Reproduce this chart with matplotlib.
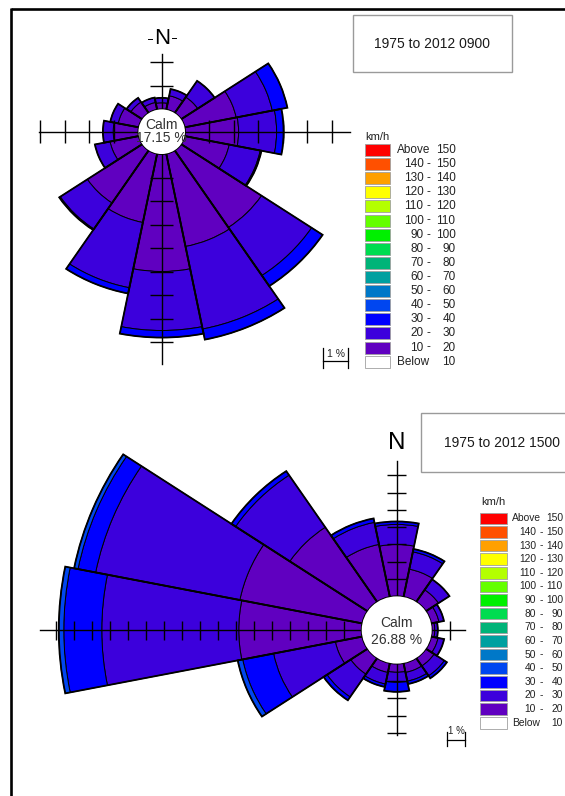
import numpy as np
import matplotlib
matplotlib.use("Agg")
import matplotlib.pyplot as plt
from matplotlib.patches import Rectangle, Ellipse

plt.rcParams['font.family'] = ['Liberation Sans', 'DejaVu Sans']

# ---------------- data ----------------
directions = ['N', 'NNE', 'NE', 'ENE', 'E', 'ESE', 'SE', 'SSE',
              'S', 'SSW', 'SW', 'WSW', 'W', 'WNW', 'NW', 'NNW']

# Rose 1 : 1975 to 2012 0900 (percent frequency per speed class)
r1_10_20 = [0.28, 0.61, 0.82, 2.15, 2.19, 1.86, 3.95, 4.03, 5.00, 2.99, 2.70, 1.20, 1.03, 0.86, 0.57, 0.32]
r1_20_30 = [0.21, 0.29, 0.83, 1.50, 1.55, 1.29, 2.46, 3.58, 2.51, 2.83, 1.33, 0.63, 0.42, 0.33, 0.21, 0.21]
r1_30_40 = [0.00, 0.00, 0.00, 0.63, 0.29, 0.05, 0.54, 0.46, 0.30, 0.25, 0.05, 0.00, 0.00, 0.00, 0.00, 0.00]
r1_40_50 = [0.00] * 16
calm1 = 17.15
title1 = "1975 to 2012 0900"

# Rose 2 : 1975 to 2012 1500
r2_10_20 = [3.00, 1.64, 0.85, 0.45, 0.17, 0.40, 0.56, 0.56, 0.50, 0.56, 1.13, 1.53, 6.83, 6.94, 5.20, 3.10]
r2_20_30 = [1.16, 1.02, 0.73, 0.28, 0.17, 0.34, 0.68, 0.51, 0.58, 0.68, 1.58, 3.50, 7.61, 8.17, 3.62, 1.30]
r2_30_40 = [0.17, 0.17, 0.00, 0.00, 0.00, 0.00, 0.17, 0.17, 0.55, 0.17, 0.23, 1.75, 2.11, 1.00, 0.28, 0.23]
r2_40_50 = [0.00, 0.00, 0.00, 0.00, 0.00, 0.00, 0.00, 0.00, 0.00, 0.00, 0.00, 0.28, 0.28, 0.22, 0.00, 0.00]
calm2 = 26.88
title2 = "1975 to 2012 1500"

# legend classes (top to bottom)
legend_low = ['Above', '140', '130', '120', '110', '100', '90', '80', '70', '60',
              '50', '40', '30', '20', '10', 'Below']
legend_high = ['150', '150', '140', '130', '120', '110', '100', '90', '80', '70',
               '60', '50', '40', '30', '20', '10']
legend_colors = ['#ff0000', '#ff5000', '#ffa000', '#ffff00', '#b4ff00', '#64ff00',
                 '#00f000', '#00dc50', '#00b478', '#00a0a0', '#0078c8', '#0046f0',
                 '#0000ff', '#3c00dc', '#6000c0', '#ffffff']
# colours of the drawn classes 10-20, 20-30, 30-40, 40-50
class_colors = [legend_colors[14], legend_colors[13], legend_colors[12], legend_colors[11]]

# axis arm lengths beyond the calm circle (in % units): N, E, S, W
r1_arms = [2.37, 6.73, 8.95, 4.05]
r2_arms = [7.80, 1.85, 4.14, 17.9]

# ---------------- figure ----------------
W, H = 565, 796
fig = plt.figure(figsize=(W / 100, H / 100), dpi=100)
pax = fig.add_axes([0, 0, 1, 1])
pax.set_xlim(0, W)
pax.set_ylim(H, 0)
pax.axis('off')

# frame
pax.plot([10.5, W + 5], [8.5, 8.5], color='black', lw=1.9, solid_capstyle='butt')
pax.plot([10.5, 10.5], [7.6, H + 5], color='black', lw=1.9, solid_capstyle='butt')


def make_rose(cx, cy, sx, sy, rmax, calm_r, classes, calm_val, arms,
              tick_half_px, n_fs, n_pos, calm_fs, calm_dy, bar_xy, bar_fs):
    w = 2 * rmax * sx
    h = 2 * rmax * sy
    rect = [(cx - w / 2) / W, 1 - (cy + h / 2) / H, w / W, h / H]
    ax = fig.add_axes(rect, projection='polar')
    ax.set_aspect('auto')
    ax.set_theta_zero_location('N')
    ax.set_theta_direction(-1)
    ax.set_ylim(0, rmax)
    ax.axis('off')
    ax.patch.set_alpha(0)

    theta = np.deg2rad(np.arange(len(directions)) * 22.5)
    width = 2 * np.pi / len(directions)
    bottom = np.full(len(directions), calm_r)
    for vals, col in zip(classes, class_colors):
        vals = np.asarray(vals, dtype=float)
        m = vals > 0
        ax.bar(theta[m], vals[m], width=width, bottom=bottom[m], color=col,
               edgecolor='black', linewidth=0.7, align='center')
        bottom = bottom + vals
    ax.bar(theta, bottom - calm_r, width=width, bottom=calm_r, fill=False,
           edgecolor='black', linewidth=1.3, align='center')

    ov = fig.add_axes(rect)
    ov.set_xlim(-rmax, rmax)
    ov.set_ylim(-rmax, rmax)
    ov.set_aspect('auto')
    ov.axis('off')

    aN, aE, aS, aW = arms
    ov.plot([-(calm_r + aW), calm_r + aE], [0, 0], color='black', lw=1.0, zorder=2)
    ov.plot([0, 0], [-(calm_r + aS), calm_r + aN], color='black', lw=1.0, zorder=2)
    hx = tick_half_px / sx
    hy = tick_half_px / sy
    xs = [calm_r + k for k in range(1, int(aE) + 1)] + [-(calm_r + k) for k in range(1, int(aW) + 1)]
    ys = [calm_r + k for k in range(1, int(aN) + 1)] + [-(calm_r + k) for k in range(1, int(aS) + 1)]
    ov.vlines(xs, -hy, hy, color='black', lw=1.0, zorder=2)
    ov.hlines(ys, -hx, hx, color='black', lw=1.0, zorder=2)

    circ = Ellipse((0, 0), 2 * calm_r, 2 * calm_r, facecolor='white', edgecolor='none', zorder=3)
    ov.add_patch(circ)
    t1 = ov.text(0, calm_dy[0], 'Calm', ha='center', va='center', fontsize=calm_fs,
                 color='#333333', zorder=4)
    t2 = ov.text(0, calm_dy[1], f'{calm_val:.2f} %', ha='center', va='center',
                 fontsize=calm_fs, color='#333333', zorder=4)
    t1.set_clip_path(circ)
    t2.set_clip_path(circ)

    # North label
    ov.text(n_pos[0], n_pos[1], 'N', ha='center', va='center', fontsize=n_fs,
            color='black', clip_on=False)

    # 1 % scale bar
    bx, by, bt0, bt1, tx, ty = bar_xy
    ov.plot([bx, bx + 1], [by, by], color='black', lw=0.9, clip_on=False)
    ov.plot([bx, bx], [bt0, bt1], color='black', lw=0.9, clip_on=False)
    ov.plot([bx + 1, bx + 1], [bt0, bt1], color='black', lw=0.9, clip_on=False)
    ov.text(tx, ty, '1 %', ha='center', va='center', fontsize=bar_fs,
            color='#222222', clip_on=False)
    return ax, ov


# Rose 1
sx1, sy1 = 24.5, 23.5
cx1, cy1 = 161.7, 131.7
make_rose(cx1, cy1, sx1, sy1, 10.5, 0.95,
          [r1_10_20, r1_20_30, r1_30_40, r1_40_50], calm1, r1_arms,
          11.5, 16, (0, (cy1 - 38) / sy1), 10,
          ((cy1 - 125) / sy1, (cy1 - 138.5) / sy1),
          ((323.3 - cx1) / sx1, (cy1 - 361.5) / sy1, (cy1 - 348.5) / sy1,
           (cy1 - 368.5) / sy1, (335.8 - cx1) / sx1, (cy1 - 354.5) / sy1), 7.5)
# dashes beside the N of rose 1
pax.plot([148.3, 151.7], [38.5, 38.5], color='black', lw=0.7)
pax.plot([172.3, 175.7], [38.0, 38.0], color='black', lw=0.7)

# Rose 2
sx2, sy2 = 18.0, 17.3
cx2, cy2 = 396.7, 630.0
make_rose(cx2, cy2, sx2, sy2, 20.5, 1.944,
          [r2_10_20, r2_20_30, r2_30_40, r2_40_50], calm2, r2_arms,
          9.5, 17.5, (0, (cy2 - 442.5) / sy2), 10,
          ((cy2 - 623.3) / sy2, (cy2 - 639.5) / sy2),
          ((446.7 - cx2) / sx2, (cy2 - 740) / sy2, (cy2 - 732) / sy2,
           (cy2 - 745.5) / sy2, (456.5 - cx2) / sx2, (cy2 - 730.5) / sy2), 7)

# ---------------- title boxes ----------------
pax.add_patch(Rectangle((353.3, 15.0), 158.4, 56.7, facecolor='white',
                        edgecolor='#9a9a9a', lw=1.0))
pax.text(432.5, 44.0, title1, ha='center', va='center', fontsize=10, color='#1a1a1a')
pax.add_patch(Rectangle((421.0, 413.3), 160.0, 58.4, facecolor='white',
                        edgecolor='#9a9a9a', lw=1.0))
pax.text(501.5, 443.0, title2, ha='center', va='center', fontsize=10, color='#1a1a1a')


# ---------------- legends ----------------
def draw_legend(x0, y_first, pitch, sw_w, sw_h, x_word, x_low, x_dash, x_high,
                kmh_xy, fs, kmh_fs):
    pax.text(kmh_xy[0], kmh_xy[1], 'km/h', ha='left', va='center', fontsize=kmh_fs,
             color='#222222')
    for i, (lo, hi, col) in enumerate(zip(legend_low, legend_high, legend_colors)):
        yc = y_first + i * pitch
        pax.add_patch(Rectangle((x0, yc - sw_h / 2), sw_w, sw_h, facecolor=col,
                                edgecolor='#a0a0a0', lw=0.6))
        if lo in ('Above', 'Below'):
            pax.text(x_word, yc, lo, ha='left', va='center', fontsize=fs, color='#222222')
        else:
            pax.text(x_low, yc, lo, ha='right', va='center', fontsize=fs, color='#222222')
            pax.text(x_dash, yc, '-', ha='center', va='center', fontsize=fs, color='#222222')
        pax.text(x_high, yc, hi, ha='right', va='center', fontsize=fs, color='#222222')


draw_legend(365.0, 150.0, 14.11, 25.0, 12.0, 396.5, 423.5, 428.0, 455.5,
            (365.0, 137.0), 8.5, 8.0)
draw_legend(480.0, 518.3, 13.63, 26.7, 11.5, 512.0, 536.0, 540.8, 563.0,
            (481.5, 501.7), 7.4, 8.0)

fig.savefig('out.png', dpi=100)
